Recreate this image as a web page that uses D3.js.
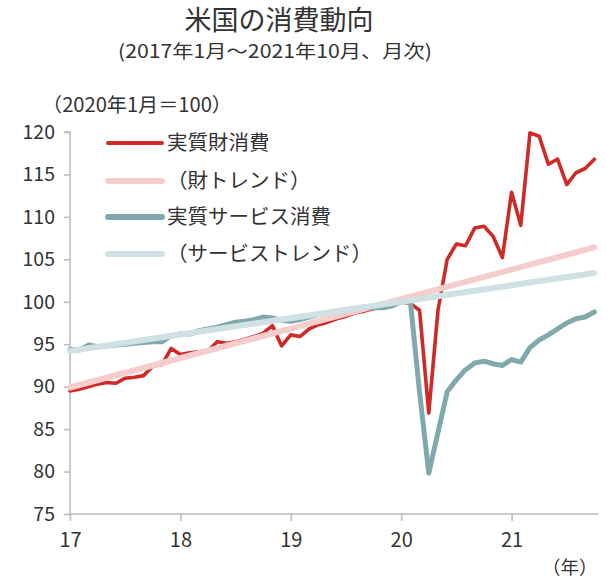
<!DOCTYPE html>
<html><head><meta charset="utf-8">
<script src="https://cdn.jsdelivr.net/npm/d3@7"></script>
<style>
body{margin:0;background:#fff;}
text{font-family:"Noto Sans CJK JP","Noto Sans",sans-serif;fill:#333;}
</style></head><body>
<svg id="c" width="607" height="580"></svg>
<script>
// monthly index: 0 = 2017-01 ... 57 = 2021-10
const goods = [89.5,89.7,90.0,90.3,90.5,90.4,91.0,91.1,91.3,92.4,92.6,94.5,
  93.8,94.0,94.1,94.2,95.3,95.1,95.3,95.6,95.9,96.3,97.2,94.8,
  96.1,95.9,96.8,97.3,97.6,98.0,98.3,98.7,98.9,99.2,99.3,99.5,
  100.0,99.8,99.0,86.9,99.0,105.0,106.8,106.6,108.7,108.9,107.7,105.2,
  112.9,109.0,119.9,119.5,116.2,116.8,113.8,115.2,115.7,116.8];
const services = [94.4,94.3,94.9,94.7,94.8,94.9,95.0,95.1,95.2,95.3,95.3,96.0,
  96.2,96.2,96.6,96.8,97.0,97.3,97.6,97.7,97.9,98.2,98.1,97.8,
  97.7,97.9,98.2,98.5,98.7,98.9,99.1,99.2,99.4,99.3,99.3,99.5,
  100.0,100.0,89.3,79.8,84.6,89.4,90.8,92.0,92.8,93.0,92.7,92.5,
  93.2,92.9,94.6,95.5,96.1,96.8,97.5,98.0,98.2,98.8];
// trend lines: [month index, value] endpoints
const goodsTrend = [[0,89.9],[57,106.4]];
const servicesTrend = [[0,94.2],[57,103.4]];
const xTickMonths = [0,12,24,36,48];
const xTickLabels = ["17","18","19","20","21"];
const yTicks = [75,80,85,90,95,100,105,110,115,120];
const seriesNames = ["実質財消費","（財トレンド）","実質サービス消費","（サービストレンド）"];
const colors = ["#cf2a27","#f6cdcd","#80a9ad","#cfe1e2"];
const widths = [3.6,6,5,6];

const svg = d3.select("#c");
const x = d3.scaleLinear().domain([0,57.45]).range([70,598.5]);
const y = d3.scaleLinear().domain([75,120]).range([514,132]);

// title
svg.append("text").attr("x",279).attr("y",30).attr("text-anchor","middle")
  .attr("font-size",27).text("米国の消費動向");
svg.append("text").attr("x",275).attr("y",58).attr("text-anchor","middle")
  .attr("font-size",18.5).attr("textLength",314).attr("lengthAdjust","spacingAndGlyphs")
  .text("(2017年1月～2021年10月、月次)");
svg.append("text").attr("x",42).attr("y",112).attr("font-size",19.5)
  .attr("textLength",190).attr("lengthAdjust","spacingAndGlyphs")
  .text("（2020年1月＝100）");

// axes
const axisColor = "#bdbdbd";
const yAxis = svg.append("g").attr("transform","translate(70,0)")
  .call(d3.axisLeft(y).tickValues(yTicks).tickSize(6).tickPadding(9));
yAxis.select(".domain").attr("stroke",axisColor).attr("stroke-width",1.6)
  .attr("d",`M-6,${y(120)}H0V${y(75)}`);
yAxis.selectAll(".tick line").attr("stroke",axisColor).attr("stroke-width",1.6);
yAxis.selectAll(".tick text").attr("font-size",19.5).attr("fill","#333")
  .attr("font-family","'Noto Sans CJK JP',sans-serif");

const xAxis = svg.append("g").attr("transform",`translate(0,${y(75)})`)
  .call(d3.axisBottom(x).tickValues(xTickMonths).tickFormat((d,i)=>xTickLabels[i]).tickSize(7).tickPadding(12));
xAxis.select(".domain").attr("stroke",axisColor).attr("stroke-width",1.6)
  .attr("d",`M${x(0)},0H${x.range()[1]}`);
xAxis.selectAll(".tick line").attr("stroke",axisColor).attr("stroke-width",1.6);
xAxis.selectAll(".tick text").attr("font-size",20).attr("fill","#333")
  .attr("font-family","'Noto Sans CJK JP',sans-serif");
svg.append("text").attr("x",542).attr("y",574).attr("font-size",18.5).text("（年）");

// lines (order: goods, goods trend, services, services trend)
const line = d3.line().x(d=>x(d[0])).y(d=>y(d[1]));
const datasets = [
  goods.map((v,i)=>[i,v]),
  goodsTrend,
  services.map((v,i)=>[i,v]),
  servicesTrend
];
datasets.forEach((ds,k)=>{
  svg.append("path").datum(ds).attr("d",line).attr("fill","none")
    .attr("stroke",colors[k]).attr("stroke-width",widths[k])
    .attr("stroke-linejoin","round").attr("stroke-linecap","round");
});

// legend
const legY = [143,181,217,254];
seriesNames.forEach((n,k)=>{
  svg.append("line").attr("x1",108).attr("x2",162).attr("y1",legY[k]).attr("y2",legY[k])
    .attr("stroke",colors[k]).attr("stroke-width",k===0?4:6).attr("stroke-linecap","round");
  svg.append("text").attr("x",167).attr("y",legY[k]+7).attr("font-size",20.5).text(n);
});
</script>
</body></html>
